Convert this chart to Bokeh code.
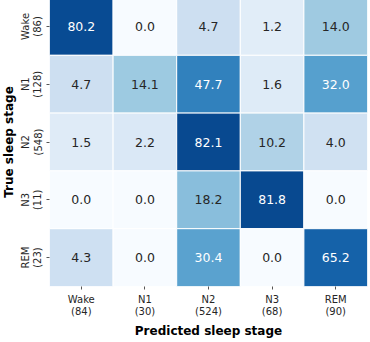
import numpy as np
from bokeh.plotting import figure
from bokeh.models import ColumnDataSource, FactorRange
from bokeh.transform import linear_cmap
from bokeh.palettes import Blues256
from bokeh.core.properties import value
from bokeh.embed import file_html
from bokeh.resources import INLINE

stages = ["Wake", "N1", "N2", "N3", "REM"]
true_counts = [86, 128, 548, 11, 23]
pred_counts = [84, 30, 524, 68, 90]
matrix = [
    [80.2, 0.0, 4.7, 1.2, 14.0],
    [4.7, 14.1, 47.7, 1.6, 32.0],
    [1.5, 2.2, 82.1, 10.2, 4.0],
    [0.0, 0.0, 18.2, 81.8, 0.0],
    [4.3, 0.0, 30.4, 0.0, 65.2],
]

x_labels = [f"{s}\n({c})" for s, c in zip(stages, pred_counts)]
y_labels = [f"{s}\n({c})" for s, c in zip(stages, true_counts)]

xs, ys, vals, lvls, txt, tcol = [], [], [], [], [], []
for i, row in enumerate(matrix):
    for j, v in enumerate(row):
        xs.append(x_labels[j])
        ys.append(y_labels[i])
        vals.append(v)
        lvls.append(np.sqrt(v))
        txt.append(f"{v:.1f}")
        tcol.append("#ffffff" if v > 25 else "#262626")

src = ColumnDataSource(dict(x=xs, y=ys, v=vals, lvl=lvls, t=txt, tc=tcol))

FONT = "DejaVu Sans"
p = figure(
    x_range=FactorRange(factors=x_labels),
    y_range=FactorRange(factors=list(reversed(y_labels))),
    frame_width=318, frame_height=289,
    min_border_left=0, min_border_right=5, min_border_top=0, min_border_bottom=0,
    output_backend="svg", toolbar_location=None,
    margin=(-3, 0, 0, -1),
)
p.rect(x="x", y="y", width=1, height=1, source=src,
       fill_color=linear_cmap("lvl", list(reversed(Blues256)), 0, 10),
       line_color="white", line_width=1)
p.text(x="x", y="y", text="t", source=src, text_color="tc",
       text_align="center", text_baseline="middle",
       text_font=value(FONT), text_font_size="12.5px")

p.grid.visible = False
p.outline_line_color = None
for ax in (p.xaxis[0], p.yaxis[0]):
    ax.axis_line_color = None
    ax.major_tick_line_color = "#555555"
    ax.major_tick_in = 0
    ax.major_tick_out = 3
    ax.minor_tick_line_color = None
    ax.major_label_text_font = FONT
    ax.major_label_text_font_size = "10px"
    ax.major_label_text_color = "#262626"
    ax.major_label_text_line_height = 1.1
    ax.axis_label_text_font = FONT
    ax.axis_label_text_font_size = "12px"
    ax.axis_label_text_font_style = "bold"
    ax.axis_label_text_color = "#000000"

p.xaxis.major_label_standoff = 4
p.xaxis.axis_label_standoff = 4
p.yaxis.major_label_standoff = 3
p.yaxis.axis_label_standoff = 1

p.xaxis.axis_label = "Predicted sleep stage"
p.yaxis.axis_label = "True sleep stage"
p.yaxis.major_label_orientation = "vertical"

open("out.html", "w").write(file_html(p, INLINE))
